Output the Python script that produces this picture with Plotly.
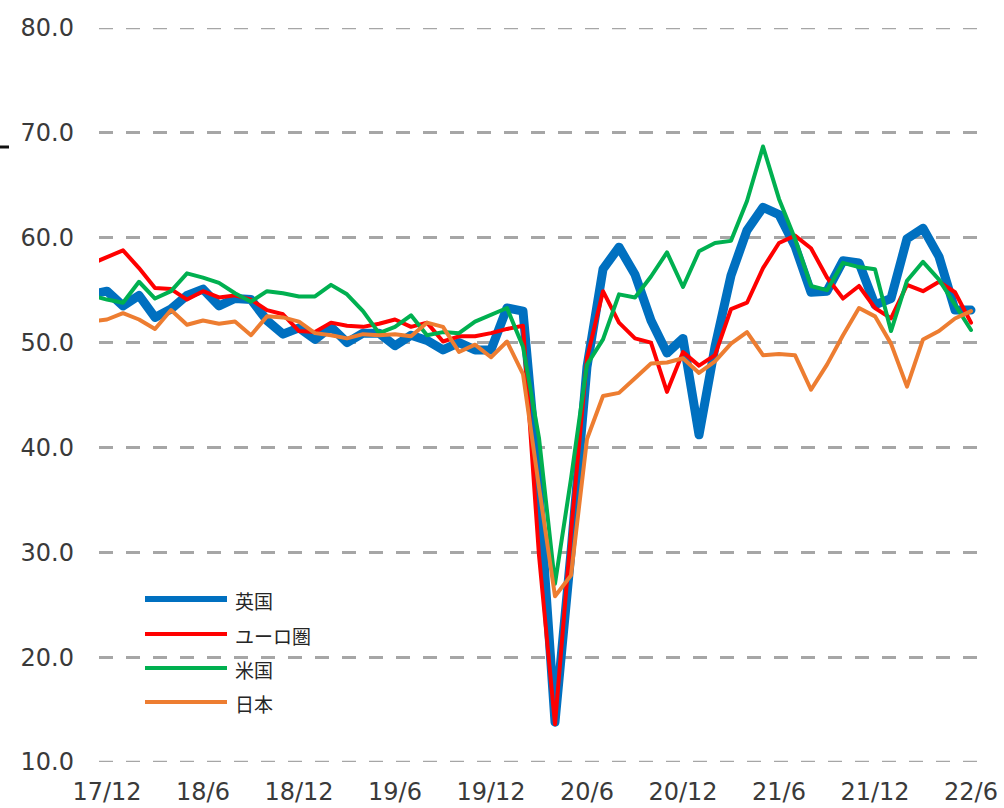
import plotly.graph_objects as go

# Monthly categories (Nov 2017 .. Jun 2022); Nov 2017 is only partly visible at the left edge
months = [
    "17/11", "17/12",
    "18/1", "18/2", "18/3", "18/4", "18/5", "18/6", "18/7", "18/8", "18/9", "18/10", "18/11", "18/12",
    "19/1", "19/2", "19/3", "19/4", "19/5", "19/6", "19/7", "19/8", "19/9", "19/10", "19/11", "19/12",
    "20/1", "20/2", "20/3", "20/4", "20/5", "20/6", "20/7", "20/8", "20/9", "20/10", "20/11", "20/12",
    "21/1", "21/2", "21/3", "21/4", "21/5", "21/6", "21/7", "21/8", "21/9", "21/10", "21/11", "21/12",
    "22/1", "22/2", "22/3", "22/4", "22/5", "22/6",
]

uk = [54.6, 54.9,
      53.5, 54.5, 52.4, 53.2, 54.5, 55.1, 53.5, 54.2, 54.1, 52.1, 50.8, 51.4,
      50.3, 51.5, 50.0, 50.9, 50.9, 49.7, 50.7, 50.2, 49.3, 50.0, 49.3, 49.3,
      53.3, 53.0, 36.0, 13.8, 30.0, 47.7, 57.0, 59.1, 56.5, 52.1, 49.0, 50.4,
      41.2, 49.6, 56.4, 60.7, 62.9, 62.2, 59.2, 54.8, 54.9, 57.8, 57.6, 53.6,
      54.2, 59.9, 60.9, 58.2, 53.1, 53.1]

euro = [57.5, 58.1,
        58.8, 57.1, 55.2, 55.1, 54.1, 54.9, 54.3, 54.5, 54.1, 53.1, 52.7, 51.1,
        51.0, 51.9, 51.6, 51.5, 51.8, 52.2, 51.5, 51.9, 50.1, 50.6, 50.6, 50.9,
        51.3, 51.6, 29.7, 13.6, 31.9, 48.5, 54.9, 51.9, 50.4, 50.0, 45.3, 49.1,
        47.8, 48.8, 53.2, 53.8, 57.1, 59.5, 60.2, 59.0, 56.2, 54.2, 55.4, 53.3,
        52.3, 55.5, 54.9, 55.8, 54.8, 51.9]

us = [54.5, 54.1,
      53.8, 55.8, 54.2, 54.9, 56.6, 56.2, 55.7, 54.7, 53.9, 54.9, 54.7, 54.4,
      54.4, 55.5, 54.6, 53.0, 50.9, 51.5, 52.6, 50.7, 51.0, 50.9, 52.0, 52.7,
      53.3, 49.6, 40.9, 27.0, 37.0, 47.9, 50.3, 54.6, 54.3, 56.3, 58.6, 55.3,
      58.7, 59.5, 59.7, 63.5, 68.7, 63.7, 59.9, 55.4, 55.0, 57.6, 57.2, 57.0,
      51.1, 55.9, 57.7, 56.0, 53.6, 51.2]

japan = [52.0, 52.2,
         52.8, 52.2, 51.3, 53.1, 51.7, 52.1, 51.8, 52.0, 50.7, 52.5, 52.4, 52.0,
         50.9, 50.7, 50.4, 50.8, 50.7, 50.8, 50.6, 51.9, 51.5, 49.1, 49.8, 48.6,
         50.1, 47.0, 36.2, 25.8, 27.8, 40.8, 44.9, 45.2, 46.6, 48.0, 48.1, 48.5,
         47.1, 48.2, 49.9, 51.0, 48.8, 48.9, 48.8, 45.5, 47.9, 50.7, 53.3, 52.5,
         49.9, 45.8, 50.3, 51.1, 52.3, 53.0]

tick_labels = ["17/12", "18/6", "18/12", "19/6", "19/12", "20/6", "20/12", "21/6", "21/12", "22/6"]
y_ticks = [10, 20, 30, 40, 50, 60, 70, 80]

series_names = ["英国", "ユーロ圏", "米国", "日本"]
series_values = [uk, euro, us, japan]
series_colors = ["#0070C0", "#FF0000", "#00B050", "#ED7D31"]
series_widths = [9, 4, 4, 4]
legend_widths = [6, 4, 4, 4]

W, H = 1004, 808
L, R, T, B = 99, 25, 28, 46
PW, PH = W - L - R, H - T - B

fig = go.Figure()
for name, vals, col, lw in zip(series_names, series_values, series_colors, series_widths):
    fig.add_trace(go.Scatter(x=months, y=vals, name=name, mode="lines",
                             line=dict(color=col, width=lw), showlegend=False))

tick_font = dict(family="DejaVu Sans, Verdana, sans-serif", size=24, color="#3a3a3a")
grid_col, grid_w, grid_dash = "#A6A6A6", 2.5, "14px,13px"

fig.update_layout(
    width=W, height=H,
    margin=dict(l=L, r=R, t=T, b=B, pad=0, autoexpand=False),
    paper_bgcolor="white", plot_bgcolor="white",
    xaxis=dict(type="category", range=[0.5, len(months) - 0.5],
               tickmode="array", tickvals=tick_labels, ticktext=tick_labels,
               showgrid=False, showline=False, zeroline=False, ticks="",
               tickfont=tick_font, ticklabelstandoff=13, automargin=False),
    yaxis=dict(range=[10, 80], tickmode="array", tickvals=y_ticks,
               tickformat=".1f", showgrid=True, gridcolor=grid_col,
               gridwidth=grid_w, griddash=grid_dash, zeroline=False, showline=False,
               ticks="", tickfont=tick_font, ticklabelstandoff=24, automargin=False),
)

# Custom legend drawn with shapes + text
def px_x(px):
    return (px - L) / PW

def px_y(py):
    return (H - B - py) / PH

shapes = []
# boundary gridlines (top and bottom of the value range)
for yv in (y_ticks[0], y_ticks[-1]):
    shapes.append(dict(type="line", xref="paper", yref="y", x0=0, x1=1, y0=yv, y1=yv,
                       layer="below", line=dict(color=grid_col, width=grid_w, dash=grid_dash)))

legend_rows = [599, 634, 668, 702]
annotations = []
for name, col, lw, py in zip(series_names, series_colors, legend_widths, legend_rows):
    shapes.append(dict(type="line", xref="paper", yref="paper",
                       x0=px_x(145), x1=px_x(227), y0=px_y(py), y1=px_y(py),
                       line=dict(color=col, width=lw)))
    annotations.append(dict(xref="paper", yref="paper", x=px_x(233), y=px_y(py + 1),
                            xanchor="left", yanchor="middle", showarrow=False, text=name,
                            font=dict(family="Noto Sans CJK JP", size=19, color="#262626")))

# small dark mark at far left (crop artifact in the reference)
shapes.append(dict(type="line", xref="paper", yref="paper",
                   x0=px_x(0), x1=px_x(9), y0=px_y(147), y1=px_y(147),
                   line=dict(color="#111111", width=3)))

fig.update_layout(shapes=shapes, annotations=annotations)

post = """
document.body.style.margin='0';
document.querySelectorAll('.scatterlayer path.js-line').forEach(function(p){
  p.style.strokeLinejoin='round'; p.style.strokeLinecap='round';
});
"""
fig.write_html("out.html", post_script=post, config={"displayModeBar": False})
